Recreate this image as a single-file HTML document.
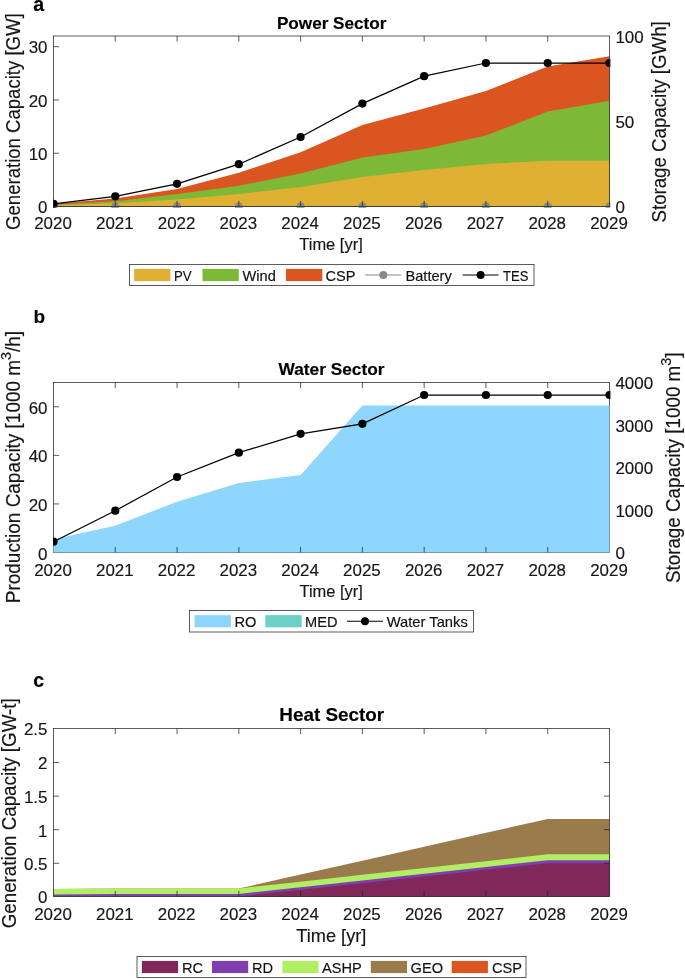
<!DOCTYPE html>
<html lang="en"><head><meta charset="utf-8"><title>Capacity by sector</title>
<style>html,body{margin:0;padding:0;background:#fff}body{width:685px;height:979px;overflow:hidden}svg{display:block}</style>
</head><body>
<svg width="685" height="979" viewBox="0 0 685 979" font-family='"Liberation Sans", sans-serif'>
<rect width="685" height="979" fill="#fff"/>
<text x="33.30" y="11.40" font-size="19.6" text-anchor="start" font-weight="bold" fill="#000" stroke="#000" stroke-width="0.16" >a</text>
<text x="331.70" y="29.10" font-size="17.0" text-anchor="middle" font-weight="bold" fill="#000" stroke="#000" stroke-width="0.16" textLength="109.52" lengthAdjust="spacingAndGlyphs" >Power Sector</text>
<clipPath id="c1"><rect x="53.0" y="35.5" width="557.4" height="172.2"/></clipPath>
<g clip-path="url(#c1)">
<polygon points="53.50,203.80 115.28,198.40 177.06,189.00 238.83,172.80 300.61,152.20 362.39,125.00 424.17,108.40 485.94,91.10 547.72,66.60 609.50,56.30 609.50,206.50 547.72,206.50 485.94,206.50 424.17,206.50 362.39,206.50 300.61,206.50 238.83,206.50 177.06,206.50 115.28,206.50 53.50,206.50" fill="#DA5520"/>
<polygon points="53.50,204.80 115.28,201.30 177.06,194.00 238.83,185.70 300.61,173.60 362.39,157.50 424.17,149.00 485.94,135.40 547.72,111.60 609.50,100.80 609.50,206.50 547.72,206.50 485.94,206.50 424.17,206.50 362.39,206.50 300.61,206.50 238.83,206.50 177.06,206.50 115.28,206.50 53.50,206.50" fill="#7DB837"/>
<polygon points="53.50,205.60 115.28,203.30 177.06,199.60 238.83,194.00 300.61,187.00 362.39,177.00 424.17,170.00 485.94,164.00 547.72,160.70 609.50,160.70 609.50,206.50 547.72,206.50 485.94,206.50 424.17,206.50 362.39,206.50 300.61,206.50 238.83,206.50 177.06,206.50 115.28,206.50 53.50,206.50" fill="#DFB032"/>
<polyline points="53.50,206.50 115.28,206.50 177.06,206.50 238.83,206.50 300.61,206.50 362.39,206.50 424.17,206.50 485.94,206.50 547.72,206.50 609.50,206.50" fill="none" stroke="#888888" stroke-width="1.0"/>
<circle cx="53.50" cy="206.50" r="4.0" fill="#888888"/>
<circle cx="115.28" cy="206.50" r="4.0" fill="#888888"/>
<circle cx="177.06" cy="206.50" r="4.0" fill="#888888"/>
<circle cx="238.83" cy="206.50" r="4.0" fill="#888888"/>
<circle cx="300.61" cy="206.50" r="4.0" fill="#888888"/>
<circle cx="362.39" cy="206.50" r="4.0" fill="#888888"/>
<circle cx="424.17" cy="206.50" r="4.0" fill="#888888"/>
<circle cx="485.94" cy="206.50" r="4.0" fill="#888888"/>
<circle cx="547.72" cy="206.50" r="4.0" fill="#888888"/>
<circle cx="609.50" cy="206.50" r="4.0" fill="#888888"/>
<polyline points="53.50,203.90 115.28,196.30 177.06,183.80 238.83,164.20 300.61,137.00 362.39,103.60 424.17,76.20 485.94,63.00 547.72,63.00 609.50,63.00" fill="none" stroke="#000" stroke-width="1.25"/>
<circle cx="53.50" cy="203.90" r="4.1" fill="#000"/>
<circle cx="115.28" cy="196.30" r="4.1" fill="#000"/>
<circle cx="177.06" cy="183.80" r="4.1" fill="#000"/>
<circle cx="238.83" cy="164.20" r="4.1" fill="#000"/>
<circle cx="300.61" cy="137.00" r="4.1" fill="#000"/>
<circle cx="362.39" cy="103.60" r="4.1" fill="#000"/>
<circle cx="424.17" cy="76.20" r="4.1" fill="#000"/>
<circle cx="485.94" cy="63.00" r="4.1" fill="#000"/>
<circle cx="547.72" cy="63.00" r="4.1" fill="#000"/>
<circle cx="609.50" cy="63.00" r="4.1" fill="#000"/>
</g>
<rect x="53.5" y="36.0" width="556.0" height="170.5" stroke="#262626" stroke-width="0.75" fill="none"/>
<g stroke="#262626" stroke-width="0.75" fill="none">
<path d="M115.28 206.5 v-5.6 M115.28 36.0 v5.6 M177.06 206.5 v-5.6 M177.06 36.0 v5.6 M238.83 206.5 v-5.6 M238.83 36.0 v5.6 M300.61 206.5 v-5.6 M300.61 36.0 v5.6 M362.39 206.5 v-5.6 M362.39 36.0 v5.6 M424.17 206.5 v-5.6 M424.17 36.0 v5.6 M485.94 206.5 v-5.6 M485.94 36.0 v5.6 M547.72 206.5 v-5.6 M547.72 36.0 v5.6 M53.5 153.22 h5.6 M53.5 99.94 h5.6 M53.5 46.66 h5.6 "/>
</g>
<text x="53.00" y="229.30" font-size="17.4" text-anchor="middle" font-weight="normal" fill="#161616" stroke="#161616" stroke-width="0.16" textLength="37.59" lengthAdjust="spacingAndGlyphs" >2020</text>
<text x="114.78" y="229.30" font-size="17.4" text-anchor="middle" font-weight="normal" fill="#161616" stroke="#161616" stroke-width="0.16" textLength="37.59" lengthAdjust="spacingAndGlyphs" >2021</text>
<text x="176.56" y="229.30" font-size="17.4" text-anchor="middle" font-weight="normal" fill="#161616" stroke="#161616" stroke-width="0.16" textLength="37.59" lengthAdjust="spacingAndGlyphs" >2022</text>
<text x="238.33" y="229.30" font-size="17.4" text-anchor="middle" font-weight="normal" fill="#161616" stroke="#161616" stroke-width="0.16" textLength="37.59" lengthAdjust="spacingAndGlyphs" >2023</text>
<text x="300.11" y="229.30" font-size="17.4" text-anchor="middle" font-weight="normal" fill="#161616" stroke="#161616" stroke-width="0.16" textLength="37.59" lengthAdjust="spacingAndGlyphs" >2024</text>
<text x="361.89" y="229.30" font-size="17.4" text-anchor="middle" font-weight="normal" fill="#161616" stroke="#161616" stroke-width="0.16" textLength="37.59" lengthAdjust="spacingAndGlyphs" >2025</text>
<text x="423.67" y="229.30" font-size="17.4" text-anchor="middle" font-weight="normal" fill="#161616" stroke="#161616" stroke-width="0.16" textLength="37.59" lengthAdjust="spacingAndGlyphs" >2026</text>
<text x="485.44" y="229.30" font-size="17.4" text-anchor="middle" font-weight="normal" fill="#161616" stroke="#161616" stroke-width="0.16" textLength="37.59" lengthAdjust="spacingAndGlyphs" >2027</text>
<text x="547.22" y="229.30" font-size="17.4" text-anchor="middle" font-weight="normal" fill="#161616" stroke="#161616" stroke-width="0.16" textLength="37.59" lengthAdjust="spacingAndGlyphs" >2028</text>
<text x="609.00" y="229.30" font-size="17.4" text-anchor="middle" font-weight="normal" fill="#161616" stroke="#161616" stroke-width="0.16" textLength="37.59" lengthAdjust="spacingAndGlyphs" >2029</text>
<text x="47.50" y="213.10" font-size="17.4" text-anchor="end" font-weight="normal" fill="#161616" stroke="#161616" stroke-width="0.16" textLength="9.44" lengthAdjust="spacingAndGlyphs" >0</text>
<text x="47.50" y="159.82" font-size="17.4" text-anchor="end" font-weight="normal" fill="#161616" stroke="#161616" stroke-width="0.16" textLength="18.87" lengthAdjust="spacingAndGlyphs" >10</text>
<text x="47.50" y="106.54" font-size="17.4" text-anchor="end" font-weight="normal" fill="#161616" stroke="#161616" stroke-width="0.16" textLength="18.87" lengthAdjust="spacingAndGlyphs" >20</text>
<text x="47.50" y="53.26" font-size="17.4" text-anchor="end" font-weight="normal" fill="#161616" stroke="#161616" stroke-width="0.16" textLength="18.87" lengthAdjust="spacingAndGlyphs" >30</text>
<text x="615.40" y="213.10" font-size="17.4" text-anchor="start" font-weight="normal" fill="#161616" stroke="#161616" stroke-width="0.16" textLength="9.44" lengthAdjust="spacingAndGlyphs" >0</text>
<text x="615.40" y="127.85" font-size="17.4" text-anchor="start" font-weight="normal" fill="#161616" stroke="#161616" stroke-width="0.16" textLength="18.87" lengthAdjust="spacingAndGlyphs" >50</text>
<text x="615.40" y="42.60" font-size="17.4" text-anchor="start" font-weight="normal" fill="#161616" stroke="#161616" stroke-width="0.16" textLength="28.31" lengthAdjust="spacingAndGlyphs" >100</text>
<text transform="translate(20.20,121.60) rotate(-90)" font-size="19.6" text-anchor="middle" fill="#161616" stroke="#161616" stroke-width="0.16" textLength="216.60" lengthAdjust="spacingAndGlyphs">Generation Capacity [GW]</text>
<text transform="translate(665.70,121.90) rotate(-90)" font-size="19.6" text-anchor="middle" fill="#161616" stroke="#161616" stroke-width="0.16" textLength="201.20" lengthAdjust="spacingAndGlyphs">Storage Capacity [GWh]</text>
<text x="331.00" y="250.10" font-size="16.8" text-anchor="middle" font-weight="normal" fill="#161616" stroke="#161616" stroke-width="0.16" textLength="63.43" lengthAdjust="spacingAndGlyphs" >Time [yr]</text>
<rect x="129.5" y="264.5" width="404.5" height="21.0" fill="#fff" stroke="#262626" stroke-width="0.75"/>
<rect x="134.1" y="268.9" width="36.3" height="12.2" fill="#DFB032"/>
<text x="174.00" y="280.60" font-size="14.6" text-anchor="start" font-weight="normal" fill="#111" stroke="#111" stroke-width="0.16" textLength="17.69" lengthAdjust="spacingAndGlyphs" >PV</text>
<rect x="202.5" y="268.9" width="36.3" height="12.2" fill="#7DB837"/>
<text x="242.60" y="280.60" font-size="14.6" text-anchor="start" font-weight="normal" fill="#111" stroke="#111" stroke-width="0.16" >Wind</text>
<rect x="286" y="268.9" width="36.3" height="12.2" fill="#DA5520"/>
<text x="325.50" y="280.60" font-size="14.6" text-anchor="start" font-weight="normal" fill="#111" stroke="#111" stroke-width="0.16" >CSP</text>
<line x1="365.3" y1="275.0" x2="401.3" y2="275.0" stroke="#888888" stroke-width="1.15"/>
<circle cx="383.3" cy="275.0" r="4.0" fill="#888888"/>
<text x="405.50" y="280.60" font-size="14.6" text-anchor="start" font-weight="normal" fill="#111" stroke="#111" stroke-width="0.16" >Battery</text>
<line x1="462.6" y1="275.0" x2="498.6" y2="275.0" stroke="#000" stroke-width="1.15"/>
<circle cx="480.6" cy="275.0" r="4.0" fill="#000"/>
<text x="503.00" y="280.60" font-size="14.6" text-anchor="start" font-weight="normal" fill="#111" stroke="#111" stroke-width="0.16" textLength="25.40" lengthAdjust="spacingAndGlyphs" >TES</text>
<text x="33.40" y="323.40" font-size="19.0" text-anchor="start" font-weight="bold" fill="#000" stroke="#000" stroke-width="0.16" >b</text>
<text x="331.50" y="375.40" font-size="17.0" text-anchor="middle" font-weight="bold" fill="#000" stroke="#000" stroke-width="0.16" textLength="105.83" lengthAdjust="spacingAndGlyphs" >Water Sector</text>
<rect x="53.5" y="382.5" width="556.0" height="170.0" stroke="#262626" stroke-width="0.75" fill="none"/>
<clipPath id="c2"><rect x="53.0" y="382.0" width="557.4" height="171.7"/></clipPath>
<g clip-path="url(#c2)">
<polygon points="53.50,539.30 115.28,525.70 177.06,501.70 238.83,483.00 300.61,475.00 362.39,405.50 424.17,405.50 485.94,405.50 547.72,405.50 609.50,405.50 609.50,552.50 547.72,552.50 485.94,552.50 424.17,552.50 362.39,552.50 300.61,552.50 238.83,552.50 177.06,552.50 115.28,552.50 53.50,552.50" fill="#8FD6FD"/>
<polyline points="53.50,541.70 115.28,510.70 177.06,477.00 238.83,452.70 300.61,433.80 362.39,423.80 424.17,395.00 485.94,395.00 547.72,395.00 609.50,395.00" fill="none" stroke="#000" stroke-width="1.25"/>
<circle cx="53.50" cy="541.70" r="4.1" fill="#000"/>
<circle cx="115.28" cy="510.70" r="4.1" fill="#000"/>
<circle cx="177.06" cy="477.00" r="4.1" fill="#000"/>
<circle cx="238.83" cy="452.70" r="4.1" fill="#000"/>
<circle cx="300.61" cy="433.80" r="4.1" fill="#000"/>
<circle cx="362.39" cy="423.80" r="4.1" fill="#000"/>
<circle cx="424.17" cy="395.00" r="4.1" fill="#000"/>
<circle cx="485.94" cy="395.00" r="4.1" fill="#000"/>
<circle cx="547.72" cy="395.00" r="4.1" fill="#000"/>
<circle cx="609.50" cy="395.00" r="4.1" fill="#000"/>
</g>
<g stroke="#262626" stroke-width="0.75" fill="none">
<path d="M115.28 552.5 v-5.6 M115.28 382.5 v5.6 M177.06 552.5 v-5.6 M177.06 382.5 v5.6 M238.83 552.5 v-5.6 M238.83 382.5 v5.6 M300.61 552.5 v-5.6 M300.61 382.5 v5.6 M362.39 552.5 v-5.6 M362.39 382.5 v5.6 M424.17 552.5 v-5.6 M424.17 382.5 v5.6 M485.94 552.5 v-5.6 M485.94 382.5 v5.6 M547.72 552.5 v-5.6 M547.72 382.5 v5.6 M53.5 503.93 h5.6 M53.5 455.36 h5.6 M53.5 406.79 h5.6 "/>
</g>
<text x="53.00" y="576.10" font-size="17.4" text-anchor="middle" font-weight="normal" fill="#161616" stroke="#161616" stroke-width="0.16" textLength="37.59" lengthAdjust="spacingAndGlyphs" >2020</text>
<text x="114.78" y="576.10" font-size="17.4" text-anchor="middle" font-weight="normal" fill="#161616" stroke="#161616" stroke-width="0.16" textLength="37.59" lengthAdjust="spacingAndGlyphs" >2021</text>
<text x="176.56" y="576.10" font-size="17.4" text-anchor="middle" font-weight="normal" fill="#161616" stroke="#161616" stroke-width="0.16" textLength="37.59" lengthAdjust="spacingAndGlyphs" >2022</text>
<text x="238.33" y="576.10" font-size="17.4" text-anchor="middle" font-weight="normal" fill="#161616" stroke="#161616" stroke-width="0.16" textLength="37.59" lengthAdjust="spacingAndGlyphs" >2023</text>
<text x="300.11" y="576.10" font-size="17.4" text-anchor="middle" font-weight="normal" fill="#161616" stroke="#161616" stroke-width="0.16" textLength="37.59" lengthAdjust="spacingAndGlyphs" >2024</text>
<text x="361.89" y="576.10" font-size="17.4" text-anchor="middle" font-weight="normal" fill="#161616" stroke="#161616" stroke-width="0.16" textLength="37.59" lengthAdjust="spacingAndGlyphs" >2025</text>
<text x="423.67" y="576.10" font-size="17.4" text-anchor="middle" font-weight="normal" fill="#161616" stroke="#161616" stroke-width="0.16" textLength="37.59" lengthAdjust="spacingAndGlyphs" >2026</text>
<text x="485.44" y="576.10" font-size="17.4" text-anchor="middle" font-weight="normal" fill="#161616" stroke="#161616" stroke-width="0.16" textLength="37.59" lengthAdjust="spacingAndGlyphs" >2027</text>
<text x="547.22" y="576.10" font-size="17.4" text-anchor="middle" font-weight="normal" fill="#161616" stroke="#161616" stroke-width="0.16" textLength="37.59" lengthAdjust="spacingAndGlyphs" >2028</text>
<text x="609.00" y="576.10" font-size="17.4" text-anchor="middle" font-weight="normal" fill="#161616" stroke="#161616" stroke-width="0.16" textLength="37.59" lengthAdjust="spacingAndGlyphs" >2029</text>
<text x="47.50" y="559.50" font-size="17.4" text-anchor="end" font-weight="normal" fill="#161616" stroke="#161616" stroke-width="0.16" textLength="9.44" lengthAdjust="spacingAndGlyphs" >0</text>
<text x="47.50" y="510.93" font-size="17.4" text-anchor="end" font-weight="normal" fill="#161616" stroke="#161616" stroke-width="0.16" textLength="18.87" lengthAdjust="spacingAndGlyphs" >20</text>
<text x="47.50" y="462.36" font-size="17.4" text-anchor="end" font-weight="normal" fill="#161616" stroke="#161616" stroke-width="0.16" textLength="18.87" lengthAdjust="spacingAndGlyphs" >40</text>
<text x="47.50" y="413.79" font-size="17.4" text-anchor="end" font-weight="normal" fill="#161616" stroke="#161616" stroke-width="0.16" textLength="18.87" lengthAdjust="spacingAndGlyphs" >60</text>
<text x="615.40" y="559.30" font-size="17.4" text-anchor="start" font-weight="normal" fill="#161616" stroke="#161616" stroke-width="0.16" textLength="9.44" lengthAdjust="spacingAndGlyphs" >0</text>
<text x="615.40" y="516.80" font-size="17.4" text-anchor="start" font-weight="normal" fill="#161616" stroke="#161616" stroke-width="0.16" textLength="37.74" lengthAdjust="spacingAndGlyphs" >1000</text>
<text x="615.40" y="474.30" font-size="17.4" text-anchor="start" font-weight="normal" fill="#161616" stroke="#161616" stroke-width="0.16" textLength="37.74" lengthAdjust="spacingAndGlyphs" >2000</text>
<text x="615.40" y="431.80" font-size="17.4" text-anchor="start" font-weight="normal" fill="#161616" stroke="#161616" stroke-width="0.16" textLength="37.74" lengthAdjust="spacingAndGlyphs" >3000</text>
<text x="615.40" y="389.30" font-size="17.4" text-anchor="start" font-weight="normal" fill="#161616" stroke="#161616" stroke-width="0.16" textLength="37.74" lengthAdjust="spacingAndGlyphs" >4000</text>
<text transform="translate(20.00,467.00) rotate(-90)" font-size="19.6" text-anchor="middle" fill="#161616" stroke="#161616" stroke-width="0.16" textLength="272.30" lengthAdjust="spacingAndGlyphs">Production Capacity [1000 m<tspan font-size="15" dy="-8.9">3</tspan><tspan dy="8.9">/h]</tspan></text>
<text transform="translate(680.30,467.80) rotate(-90)" font-size="19.6" text-anchor="middle" fill="#161616" stroke="#161616" stroke-width="0.16" textLength="230.50" lengthAdjust="spacingAndGlyphs">Storage Capacity [1000 m<tspan font-size="15" dy="-8.9">3</tspan><tspan dy="8.9">]</tspan></text>
<text x="331.20" y="596.70" font-size="16.8" text-anchor="middle" font-weight="normal" fill="#161616" stroke="#161616" stroke-width="0.16" textLength="63.43" lengthAdjust="spacingAndGlyphs" >Time [yr]</text>
<rect x="189.5" y="610.5" width="284.0" height="21.5" fill="#fff" stroke="#262626" stroke-width="0.75"/>
<rect x="194.5" y="615.15" width="36.4" height="12.2" fill="#8FD6FD"/>
<text x="234.50" y="626.85" font-size="14.6" text-anchor="start" font-weight="normal" fill="#111" stroke="#111" stroke-width="0.16" >RO</text>
<rect x="265.3" y="615.15" width="36.4" height="12.2" fill="#6BD1C7"/>
<text x="305.00" y="626.85" font-size="14.6" text-anchor="start" font-weight="normal" fill="#111" stroke="#111" stroke-width="0.16" >MED</text>
<line x1="347" y1="621.25" x2="383" y2="621.25" stroke="#000" stroke-width="1.15"/>
<circle cx="365.0" cy="621.25" r="4.0" fill="#000"/>
<text x="386.70" y="626.85" font-size="14.6" text-anchor="start" font-weight="normal" fill="#111" stroke="#111" stroke-width="0.16" textLength="81.13" lengthAdjust="spacingAndGlyphs" >Water Tanks</text>
<text x="33.30" y="686.80" font-size="19.6" text-anchor="start" font-weight="bold" fill="#000" stroke="#000" stroke-width="0.16" >c</text>
<text x="331.70" y="721.40" font-size="18.6" text-anchor="middle" font-weight="bold" fill="#000" stroke="#000" stroke-width="0.16" textLength="104.86" lengthAdjust="spacingAndGlyphs" >Heat Sector</text>
<clipPath id="c3"><rect x="53.0" y="728.0" width="557.4" height="169.7"/></clipPath>
<g clip-path="url(#c3)">
<polygon points="53.50,888.90 115.28,888.50 177.06,888.50 238.83,888.50 300.61,874.58 362.39,860.66 424.17,846.74 485.94,832.82 547.72,818.90 609.50,818.90 609.50,896.50 547.72,896.50 485.94,896.50 424.17,896.50 362.39,896.50 300.61,896.50 238.83,896.50 177.06,896.50 115.28,896.50 53.50,896.50" fill="#9A7C4C"/>
<polygon points="53.50,888.90 115.28,888.50 177.06,888.50 238.83,888.50 300.61,881.66 362.39,874.82 424.17,867.98 485.94,861.14 547.72,854.30 609.50,854.30 609.50,896.50 547.72,896.50 485.94,896.50 424.17,896.50 362.39,896.50 300.61,896.50 238.83,896.50 177.06,896.50 115.28,896.50 53.50,896.50" fill="#B0EE63"/>
<polygon points="53.50,894.60 115.28,894.00 177.06,894.00 238.83,894.00 300.61,887.24 362.39,880.48 424.17,873.72 485.94,866.96 547.72,860.20 609.50,860.20 609.50,896.50 547.72,896.50 485.94,896.50 424.17,896.50 362.39,896.50 300.61,896.50 238.83,896.50 177.06,896.50 115.28,896.50 53.50,896.50" fill="#7F3FAE"/>
<polygon points="53.50,896.50 115.28,896.50 177.06,896.50 238.83,896.50 300.61,889.84 362.39,883.18 424.17,876.52 485.94,869.86 547.72,863.20 609.50,863.20 609.50,896.50 547.72,896.50 485.94,896.50 424.17,896.50 362.39,896.50 300.61,896.50 238.83,896.50 177.06,896.50 115.28,896.50 53.50,896.50" fill="#7F2859"/>
</g>
<rect x="53.5" y="728.5" width="556.0" height="168.0" stroke="#262626" stroke-width="0.75" fill="none"/>
<g stroke="#262626" stroke-width="0.75" fill="none">
<path d="M115.28 896.5 v-5.6 M115.28 728.5 v5.6 M177.06 896.5 v-5.6 M177.06 728.5 v5.6 M238.83 896.5 v-5.6 M238.83 728.5 v5.6 M300.61 896.5 v-5.6 M300.61 728.5 v5.6 M362.39 896.5 v-5.6 M362.39 728.5 v5.6 M424.17 896.5 v-5.6 M424.17 728.5 v5.6 M485.94 896.5 v-5.6 M485.94 728.5 v5.6 M547.72 896.5 v-5.6 M547.72 728.5 v5.6 M53.5 863.30 h5.6 M609.5 863.30 h-5.6 M53.5 829.70 h5.6 M609.5 829.70 h-5.6 M53.5 796.10 h5.6 M609.5 796.10 h-5.6 M53.5 762.50 h5.6 M609.5 762.50 h-5.6 "/>
</g>
<text x="53.00" y="920.20" font-size="17.4" text-anchor="middle" font-weight="normal" fill="#161616" stroke="#161616" stroke-width="0.16" textLength="37.59" lengthAdjust="spacingAndGlyphs" >2020</text>
<text x="114.78" y="920.20" font-size="17.4" text-anchor="middle" font-weight="normal" fill="#161616" stroke="#161616" stroke-width="0.16" textLength="37.59" lengthAdjust="spacingAndGlyphs" >2021</text>
<text x="176.56" y="920.20" font-size="17.4" text-anchor="middle" font-weight="normal" fill="#161616" stroke="#161616" stroke-width="0.16" textLength="37.59" lengthAdjust="spacingAndGlyphs" >2022</text>
<text x="238.33" y="920.20" font-size="17.4" text-anchor="middle" font-weight="normal" fill="#161616" stroke="#161616" stroke-width="0.16" textLength="37.59" lengthAdjust="spacingAndGlyphs" >2023</text>
<text x="300.11" y="920.20" font-size="17.4" text-anchor="middle" font-weight="normal" fill="#161616" stroke="#161616" stroke-width="0.16" textLength="37.59" lengthAdjust="spacingAndGlyphs" >2024</text>
<text x="361.89" y="920.20" font-size="17.4" text-anchor="middle" font-weight="normal" fill="#161616" stroke="#161616" stroke-width="0.16" textLength="37.59" lengthAdjust="spacingAndGlyphs" >2025</text>
<text x="423.67" y="920.20" font-size="17.4" text-anchor="middle" font-weight="normal" fill="#161616" stroke="#161616" stroke-width="0.16" textLength="37.59" lengthAdjust="spacingAndGlyphs" >2026</text>
<text x="485.44" y="920.20" font-size="17.4" text-anchor="middle" font-weight="normal" fill="#161616" stroke="#161616" stroke-width="0.16" textLength="37.59" lengthAdjust="spacingAndGlyphs" >2027</text>
<text x="547.22" y="920.20" font-size="17.4" text-anchor="middle" font-weight="normal" fill="#161616" stroke="#161616" stroke-width="0.16" textLength="37.59" lengthAdjust="spacingAndGlyphs" >2028</text>
<text x="609.00" y="920.20" font-size="17.4" text-anchor="middle" font-weight="normal" fill="#161616" stroke="#161616" stroke-width="0.16" textLength="37.59" lengthAdjust="spacingAndGlyphs" >2029</text>
<text x="47.50" y="903.30" font-size="17.4" text-anchor="end" font-weight="normal" fill="#161616" stroke="#161616" stroke-width="0.16" textLength="9.44" lengthAdjust="spacingAndGlyphs" >0</text>
<text x="47.50" y="870.10" font-size="17.4" text-anchor="end" font-weight="normal" fill="#161616" stroke="#161616" stroke-width="0.16" textLength="23.58" lengthAdjust="spacingAndGlyphs" >0.5</text>
<text x="47.50" y="836.50" font-size="17.4" text-anchor="end" font-weight="normal" fill="#161616" stroke="#161616" stroke-width="0.16" textLength="9.44" lengthAdjust="spacingAndGlyphs" >1</text>
<text x="47.50" y="802.90" font-size="17.4" text-anchor="end" font-weight="normal" fill="#161616" stroke="#161616" stroke-width="0.16" textLength="23.58" lengthAdjust="spacingAndGlyphs" >1.5</text>
<text x="47.50" y="769.30" font-size="17.4" text-anchor="end" font-weight="normal" fill="#161616" stroke="#161616" stroke-width="0.16" textLength="9.44" lengthAdjust="spacingAndGlyphs" >2</text>
<text x="47.50" y="735.30" font-size="17.4" text-anchor="end" font-weight="normal" fill="#161616" stroke="#161616" stroke-width="0.16" textLength="23.58" lengthAdjust="spacingAndGlyphs" >2.5</text>
<text transform="translate(16.10,813.30) rotate(-90)" font-size="19.6" text-anchor="middle" fill="#161616" stroke="#161616" stroke-width="0.16" textLength="230.00" lengthAdjust="spacingAndGlyphs">Generation Capacity [GW-t]</text>
<text x="331.35" y="942.00" font-size="18.6" text-anchor="middle" font-weight="normal" fill="#161616" stroke="#161616" stroke-width="0.16" textLength="70.13" lengthAdjust="spacingAndGlyphs" >Time [yr]</text>
<rect x="137.0" y="956.5" width="389.0" height="21.0" fill="#fff" stroke="#262626" stroke-width="0.75"/>
<rect x="141.9" y="960.9" width="36.2" height="12.2" fill="#7F2859"/>
<text x="182.00" y="972.60" font-size="14.6" text-anchor="start" font-weight="normal" fill="#111" stroke="#111" stroke-width="0.16" >RC</text>
<rect x="212" y="960.9" width="36.2" height="12.2" fill="#7F3FAE"/>
<text x="252.00" y="972.60" font-size="14.6" text-anchor="start" font-weight="normal" fill="#111" stroke="#111" stroke-width="0.16" >RD</text>
<rect x="282.4" y="960.9" width="36.2" height="12.2" fill="#B0EE63"/>
<text x="322.00" y="972.60" font-size="14.6" text-anchor="start" font-weight="normal" fill="#111" stroke="#111" stroke-width="0.16" >ASHP</text>
<rect x="370.8" y="960.9" width="36.2" height="12.2" fill="#9A7C4C"/>
<text x="410.60" y="972.60" font-size="14.6" text-anchor="start" font-weight="normal" fill="#111" stroke="#111" stroke-width="0.16" >GEO</text>
<rect x="451.7" y="960.9" width="36.2" height="12.2" fill="#DA5520"/>
<text x="492.00" y="972.60" font-size="14.6" text-anchor="start" font-weight="normal" fill="#111" stroke="#111" stroke-width="0.16" >CSP</text>
</svg>
</body></html>
